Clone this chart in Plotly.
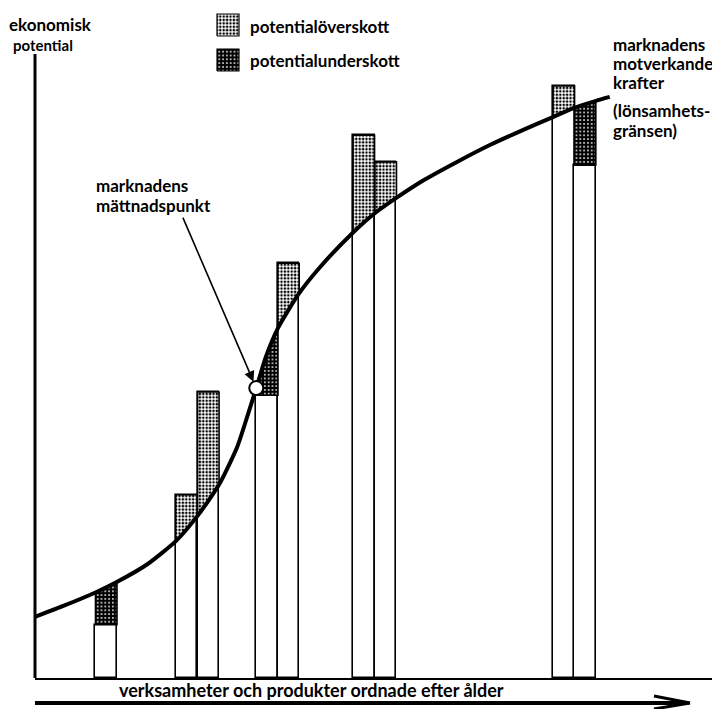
import numpy as np
import plotly.graph_objects as go

# ---------------- data (abstract units) ----------------
# x: position of activities/products ordered by age, y: economic potential
bar_x = [10.4, 22.1, 25.3, 33.9, 37.0, 48.0, 51.2, 77.2, 80.3]
bar_value = [8.2, 28.2, 44.0, 43.5, 63.8, 83.5, 79.4, 91.1, 78.9]

# market curve (counteracting forces / profitability limit)
curve_x = [0.0, 4.4, 8.9, 12.0, 16.4, 20.6, 23.7, 26.9, 29.5, 31.1, 32.3, 33.7,
           35.5, 38.5, 41.6, 46.4, 49.6, 52.8, 56.6, 61.6, 66.4, 71.2, 75.6,
           78.7, 81.9, 83.9]
curve_y = [9.4, 11.2, 13.2, 14.8, 17.5, 21.1, 24.9, 29.8, 35.5, 40.6, 44.6, 49.4,
           53.9, 59.1, 63.2, 68.5, 71.5, 73.9, 76.5, 79.4, 82.0, 84.3, 86.3,
           87.7, 88.8, 89.4]

# market saturation point
saturation_x = [32.3]
saturation_y = [44.6]

legend_labels = ["potentialöverskott", "potentialunderskott"]

# ---------------- layout constants ----------------
OFF = 8                 # page body margin of the browser
W, H = 720 - OFF, 709 - OFF
ML, MR, MT, MB = 35 - OFF, 0, 0, 31
PW, PH = W - ML - MR, H - MT - MB
X_RANGE = [0, 100]
Y_RANGE = [0, PH / 6.5]
BAR_W = 3.14
FONT = "Lato"
FS = 17

def px(xr):  # page pixel -> paper x
    return (xr - OFF - ML) / PW

def py(yr):  # page pixel -> paper y
    return (H - MB - (yr - OFF)) / PH

def dx(xr):
    return X_RANGE[0] + px(xr) * (X_RANGE[1] - X_RANGE[0])

def dy(yr):
    return Y_RANGE[0] + py(yr) * (Y_RANGE[1] - Y_RANGE[0])

OVER = dict(shape=".", fgcolor="black", bgcolor="white", size=3.4, solidity=0.45, fillmode="replace")
UNDER = dict(shape=".", fgcolor="white", bgcolor="black", size=3.8, solidity=0.16, fillmode="replace")

fig = go.Figure()

# plain bars
fig.add_trace(go.Bar(
    x=bar_x, y=bar_value, width=BAR_W,
    marker=dict(color="white", line=dict(color="black", width=1.6)),
    showlegend=False, hoverinfo="skip"))

# shaded regions between bar top and market curve
for xc, v in zip(bar_x, bar_value):
    xl, xr = xc - BAR_W / 2, xc + BAR_W / 2
    cl, cr = np.interp([xl, xr], curve_x, curve_y)
    inner = [(cx, cy) for cx, cy in zip(curve_x, curve_y) if xl < cx < xr]
    xs = [xl] + [p[0] for p in inner] + [xr, xr, xl, xl]
    ys = [cl] + [p[1] for p in inner] + [cr, v, v, cl]
    pat = OVER if v > (cl + cr) / 2 else UNDER
    fig.add_trace(go.Scatter(
        x=xs, y=ys, mode="lines", fill="toself",
        fillcolor=pat["bgcolor"], fillpattern=pat,
        line=dict(color="black", width=1.6),
        showlegend=False, hoverinfo="skip"))

# market curve
fig.add_trace(go.Scatter(
    x=curve_x, y=curve_y, mode="lines",
    line=dict(color="black", width=4, shape="spline", smoothing=0.6),
    showlegend=False, hoverinfo="skip"))

# saturation point
fig.add_trace(go.Scatter(
    x=saturation_x, y=saturation_y, mode="markers",
    marker=dict(symbol="circle", size=14, color="white", line=dict(color="black", width=2)),
    showlegend=False, hoverinfo="skip"))

# legend swatches
for (y0p, y1p), pat in zip([(14, 36), (49, 71)], [OVER, UNDER]):
    x0, x1 = dx(217), dx(239)
    y0, y1 = dy(y1p), dy(y0p)
    fig.add_trace(go.Scatter(
        x=[x0, x1, x1, x0, x0], y=[y0, y0, y1, y1, y0], mode="lines",
        fill="toself", fillcolor=pat["bgcolor"], fillpattern=pat,
        line=dict(color="black", width=1.2),
        showlegend=False, hoverinfo="skip", cliponaxis=False))

ann = []
def text(s, xr, yr, size=FS, anchor="left"):
    ann.append(dict(text=s, x=px(xr), y=py(yr), xref="paper", yref="paper",
                    xanchor=anchor, yanchor="middle", showarrow=False, align="left",
                    font=dict(family=FONT, size=size, color="black", weight="bold")))

text("ekonomisk", 7, 24, 17)
text("potential", 11, 45, 15)
text(legend_labels[0], 248, 26)
text(legend_labels[1], 248, 61)
text("marknadens", 611, 44)
text("motverkande", 611, 63)
text("krafter", 611, 82)
text("(lönsamhets-", 611, 111)
text("gränsen)", 611, 131)
text("marknadens", 94, 186)
text("mättnadspunkt", 94, 205)
text("verksamheter och produkter ordnade efter ålder", 311, 690, 18, anchor="center")

# arrow to saturation point
ann.append(dict(x=saturation_x[0], y=saturation_y[0], xref="x", yref="y", text="",
                showarrow=True, ax=-74, ay=-172, arrowhead=2, arrowsize=1.3,
                arrowwidth=1.6, arrowcolor="black", standoff=7))

shapes = [
    # vertical axis
    dict(type="line", xref="paper", yref="paper", x0=px(35), x1=px(35), y0=py(678), y1=py(54),
         line=dict(color="black", width=3)),
    # bottom arrow
    dict(type="line", xref="paper", yref="paper", x0=px(35), x1=px(686), y0=py(703), y1=py(703),
         line=dict(color="black", width=4)),
    dict(type="line", xref="paper", yref="paper", x0=px(654), x1=px(690), y0=py(696), y1=py(703),
         line=dict(color="black", width=3)),
    dict(type="line", xref="paper", yref="paper", x0=px(654), x1=px(690), y0=py(709), y1=py(703),
         line=dict(color="black", width=3)),
]

fig.update_layout(
    width=W, height=H, margin=dict(l=ML, r=MR, t=MT, b=MB),
    paper_bgcolor="white", plot_bgcolor="white",
    bargap=0, showlegend=False,
    annotations=ann, shapes=shapes,
    xaxis=dict(range=X_RANGE, showgrid=False, zeroline=False, showticklabels=False,
               ticks="", showline=True, linecolor="black", linewidth=2, fixedrange=True),
    yaxis=dict(range=Y_RANGE, showgrid=False, zeroline=False, showticklabels=False,
               ticks="", showline=False, fixedrange=True),
)

fig.write_html("out.html")
